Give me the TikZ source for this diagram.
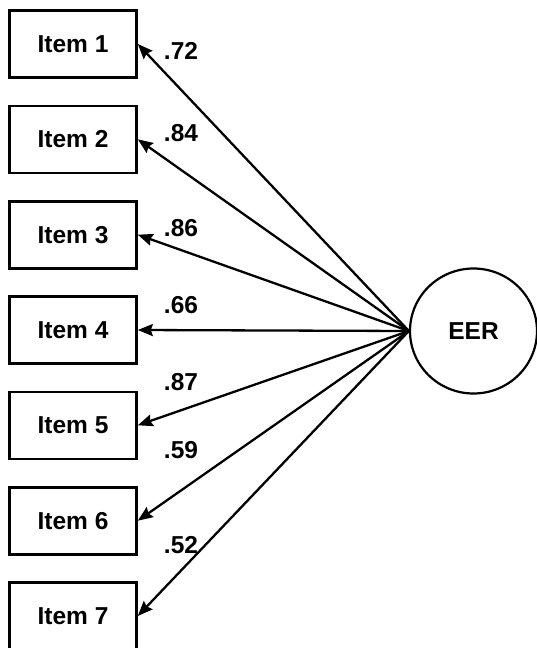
\documentclass[tikz,border=0pt]{standalone}
\usepackage{fontspec}
\setmainfont{Liberation Sans}
\usetikzlibrary{arrows.meta,shapes.geometric}
\begin{document}
\begin{tikzpicture}[x=1pt,y=-1pt,
  itembox/.style={draw,line width=2.6pt,minimum width=127pt,minimum height=67pt,inner sep=0pt,font=\fontsize{24.5}{26}\selectfont\bfseries},
  latent/.style={draw,ellipse,line width=2.2pt,minimum width=127pt,minimum height=125pt,inner sep=0pt,font=\fontsize{24.5}{26}\selectfont\bfseries},
  loading/.style={line width=2.3pt,-{Stealth[length=15pt,width=12pt,inset=2pt]}},
  lbl/.style={font=\fontsize{24.5}{26}\selectfont\bfseries,inner sep=0pt}]
\useasboundingbox (0,0) rectangle (537,648);
\node[latent] (eer) at (473.5,331) {EER};
\node[itembox] (i1) at (73,44) {Item 1};
\node[itembox] (i2) at (73,139.3) {Item 2};
\node[itembox] (i3) at (73,234.7) {Item 3};
\node[itembox] (i4) at (73,330) {Item 4};
\node[itembox] (i5) at (73,425.3) {Item 5};
\node[itembox] (i6) at (73,520.7) {Item 6};
\node[itembox] (i7) at (73,616) {Item 7};
\foreach \i in {1,...,7}{\draw[loading] (eer.west) -- (i\i.east);}
\node[lbl] (l1) at (181,51) {.72};
\node[lbl] (l2) at (181,133) {.84};
\node[lbl] (l3) at (181,228) {.86};
\node[lbl] (l4) at (181,305) {.66};
\node[lbl] (l5) at (181,382) {.87};
\node[lbl] (l6) at (181,450) {.59};
\node[lbl] (l7) at (181,545) {.52};
\end{tikzpicture}
\end{document}
